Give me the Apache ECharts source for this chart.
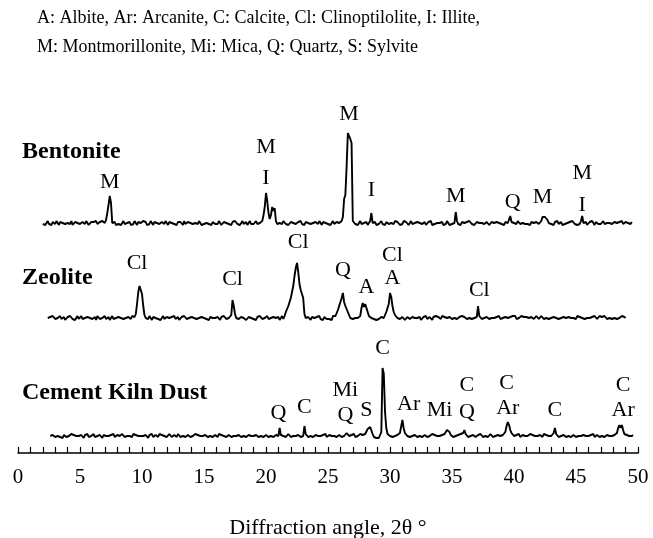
<!DOCTYPE html>
<html>
<head>
<meta charset="utf-8">
<script src="https://cdn.jsdelivr.net/npm/echarts/dist/echarts.min.js"></script>
<style>
  html, body { margin: 0; padding: 0; background: #fff; }
  #chart { width: 653px; height: 538px; }
</style>
</head>
<body>
<div id="chart"></div>
<script>
// XRD patterns, counts above background (arbitrary units), scanned at 0.1° 2θ steps
const stepDeg = 0.1;

const bentoniteStart = 2.0;
const bentonite = [
  5,7,4,6,8,5,6,4,7,6,
  5,8,6,4,7,5,6,8,5,4,
  6,7,5,8,4,6,7,5,6,8,
  5,4,7,6,5,8,6,4,6,7,
  5,7,6,8,5,6,7,5,8,6,
  6,9,16,24,33,26,6,5,7,4,
  6,5,7,4,6,8,5,7,6,5,
  7,4,6,5,8,6,4,7,5,6,
  5,8,6,7,4,6,5,8,6,4,
  7,5,6,8,5,4,7,6,5,8,
  6,4,7,5,6,8,5,6,4,7,
  5,7,6,4,8,5,6,7,5,6,
  8,5,4,6,7,5,8,6,4,6,
  5,7,6,8,5,6,4,7,6,5,
  7,5,8,6,4,6,7,5,6,8,
  5,6,4,7,5,8,6,5,7,4,
  6,8,5,6,7,4,6,8,5,7,
  5,6,8,5,7,6,7,8,14,22,
  36,28,16,10,14,22,18,21,8,5,
  4,6,7,5,8,6,5,7,4,6,
  7,5,6,8,5,4,7,6,8,5,
  6,4,7,5,6,8,5,7,6,4,
  7,6,5,8,6,4,7,5,6,8,
  5,7,4,6,8,5,6,7,5,6,
  6,8,12,30,34,62,96,98,90,86,
  8,6,5,7,4,6,8,5,7,6,
  5,7,4,6,8,16,6,5,7,4,
  6,5,7,8,5,6,4,7,6,5,
  7,6,4,5,8,6,7,5,4,6,
  5,8,6,7,5,4,6,8,5,7,
  6,4,7,5,6,8,5,6,7,4,
  5,7,6,8,4,6,5,7,6,8,
  6,5,7,4,6,5,8,6,4,6,
  5,7,6,17,8,5,6,4,7,5,
  6,4,7,5,8,6,5,7,4,6,
  7,5,6,4,6,8,5,6,7,5,
  4,6,7,5,6,4,7,5,6,8,
  5,6,4,7,5,6,8,13,7,5,
  6,7,5,8,6,5,7,6,8,5,
  7,5,6,4,7,8,6,5,7,6,
  5,7,8,12,14,12,13,9,6,7,
  5,6,4,7,6,8,5,6,7,4,
  6,5,7,6,4,7,5,8,6,5,
  7,4,6,5,8,13,6,5,7,4,
  6,7,5,8,6,4,7,6,5,7,
  5,6,8,5,7,6,4,6,8,5,
  6,7,5,6,4,7,6,8,5,6,
  7,5,6,8,5,7
];

const zeoliteStart = 2.4;
const zeolite = [
  6,4,7,5,8,6,
  5,7,6,4,8,5,6,7,4,6,
  7,5,8,6,5,7,4,6,8,5,
  6,8,5,7,6,4,7,5,6,8,
  5,6,7,4,8,6,5,7,6,5,
  8,5,6,7,4,6,8,5,7,6,
  4,7,5,6,8,5,7,6,4,7,
  6,5,8,6,7,10,20,32,38,39,
  30,18,9,6,7,5,8,6,4,7,
  5,6,8,5,7,4,6,8,5,6,
  7,5,6,4,7,6,8,5,6,7,
  4,6,7,5,8,6,5,7,6,4,
  7,5,6,8,5,7,6,4,7,5,
  6,8,5,6,4,7,5,6,8,6,
  5,7,6,4,7,5,8,6,5,7,
  6,5,9,24,18,10,6,7,5,6,
  7,5,6,8,4,6,7,5,6,8,
  5,6,4,7,5,8,6,5,7,6,
  6,8,5,7,6,4,7,5,6,5,
  7,4,6,8,5,8,12,14,18,22,
  26,32,38,48,56,61,52,40,34,32,
  26,10,6,5,7,6,4,7,5,6,
  5,7,6,8,5,6,4,7,6,5,
  7,5,6,4,8,6,8,10,14,18,
  20,26,31,22,18,16,12,10,6,8,
  5,7,6,4,6,7,8,16,21,17,
  20,18,12,8,9,6,4,5,6,4,
  6,5,4,7,5,6,8,12,16,20,
  31,27,18,12,9,8,6,7,5,6,
  7,6,4,5,7,8,5,6,7,5,
  6,8,6,5,7,4,6,7,5,8,
  5,6,7,6,4,7,5,8,6,7,
  6,5,8,6,7,5,6,4,7,6,
  5,7,6,8,5,6,7,5,8,6,
  7,6,5,7,6,8,5,7,6,5,
  7,18,8,6,5,7,6,8,7,6,
  5,7,6,8,6,5,7,6,8,5,
  7,6,5,7,8,6,5,7,6,8,
  6,8,5,7,6,5,8,6,7,5,
  7,5,6,8,7,6,5,7,8,6,
  5,7,8,6,5,7,6,8,5,7,
  6,8,7,5,6,8,5,7,6,5,
  7,5,6,8,7,5,6,8,6,7,
  5,8,6,7,5,6,8,5,7,6,
  8,6,5,7,6,8,7,5,6,8,
  6,7,5,8,6,5,7,6,8,5,
  7,6,8,5,7,6,5,8,6,7,
  6
];

const kilnDustStart = 2.6;
const kilnDust = [
  6,5,7,6,
  5,7,6,8,5,6,4,7,6,5,
  7,6,5,8,6,7,5,6,8,6,
  5,7,6,4,7,6,8,5,7,6,
  6,8,5,7,6,5,7,6,4,7,
  5,6,8,6,5,7,6,8,5,6,
  7,5,6,7,8,6,5,7,6,5,
  6,7,5,8,6,7,5,6,7,6,
  8,6,5,7,6,4,7,6,8,5,
  6,7,6,5,8,6,7,5,6,7,
  5,6,8,7,5,6,7,6,5,8,
  6,5,7,6,8,5,6,7,6,5,
  7,6,5,8,6,7,5,6,8,6,
  5,7,6,5,7,6,8,5,6,7,
  6,5,8,6,7,5,6,8,5,6,
  7,6,5,7,6,8,6,5,7,6,
  5,7,6,8,5,6,7,5,6,8,
  6,5,7,6,5,7,6,8,5,6,
  7,6,5,7,6,8,5,6,7,5,
  6,14,7,5,6,7,5,6,8,6,
  5,7,6,8,6,5,7,6,5,7,
  6,16,8,6,5,7,6,8,5,6,
  7,5,6,8,6,5,7,6,8,5,
  6,7,5,6,8,6,7,5,6,7,
  6,5,7,6,8,9,7,6,5,7,
  6,8,5,7,6,7,8,6,7,6,
  8,9,13,15,15,14,8,5,4,4,
  5,4,6,10,74,68,30,14,8,7,
  6,8,5,7,6,5,7,6,9,10,
  22,14,9,7,6,8,5,7,6,5,
  7,6,5,7,6,8,5,6,7,6,
  5,7,6,5,8,6,7,5,6,8,
  6,5,7,6,8,9,12,14,10,7,
  6,5,7,6,5,7,6,8,6,9,
  12,8,6,5,7,6,5,7,6,5,
  6,7,5,8,6,5,7,6,7,5,
  6,8,6,5,7,6,5,7,8,6,
  5,7,6,10,16,20,17,12,9,7,
  6,5,7,6,8,5,6,7,5,6,
  7,6,5,8,6,7,5,6,7,6,
  5,7,6,5,8,6,7,5,6,8,
  6,5,9,14,8,6,5,7,6,5,
  7,6,5,7,6,8,5,6,7,6,
  5,7,6,8,6,5,7,8,6,7,
  6,5,7,6,8,5,6,7,6,5,
  7,6,8,5,6,7,5,6,8,6,
  5,7,6,9,14,17,14,17,12,8,
  6,7,5,6,8,6,7
];

// phase identifications: letter, 2θ of the label, label height on the stacked scale
const bentoniteTags  = ['M', 'M', 'I', 'M', 'I', 'M', 'Q', 'M', 'M', 'I'];
const bentoniteTagX  = [7.4, 20.0, 20.0, 26.7, 28.5, 35.3, 39.9, 42.3, 45.5, 45.5];
const bentoniteTagY  = [271, 306, 275, 339, 263, 257, 251, 256, 280, 248];

const zeoliteTags = ['Cl', 'Cl', 'Cl', 'Q', 'A', 'Cl', 'A', 'Cl'];
const zeoliteTagX = [9.6, 17.3, 22.6, 26.2, 28.1, 30.2, 30.2, 37.2];
const zeoliteTagY = [190, 174, 211, 183, 166, 198, 175, 163];

const kilnDustTags = ['Q', 'C', 'Mi', 'Q', 'S', 'C', 'Ar', 'Mi', 'C', 'Q', 'C', 'Ar', 'C', 'C', 'Ar'];
const kilnDustTagX = [21.0, 23.1, 26.4, 26.4, 28.1, 29.4, 31.5, 34.0, 36.2, 36.2, 39.4, 39.5, 43.3, 48.8, 48.8];
const kilnDustTagY = [40, 46, 63, 38, 43, 105, 49, 43, 68, 41, 70, 45, 43, 68, 43];

const sampleNames = ['Bentonite', 'Zeolite', 'Cement Kiln Dust'];
const phaseKey = [
  'A: Albite, Ar: Arcanite, C: Calcite, Cl: Clinoptilolite, I: Illite,',
  'M: Montmorillonite, Mi: Mica, Q: Quartz, S: Sylvite'
];
const xTicks = { min: 0, max: 50, interval: 5 };

// vertical stacking of the three patterns
const offsets = { bentonite: 224, zeolite: 129, kilnDust: 11 };

const serif = '"Liberation Serif", "Times New Roman", serif';

function pattern(values, start, offset) {
  return values.map((v, i) => [Math.round((start + i * stepDeg) * 10) / 10, v + offset]);
}
function tags(names, xs, ys) {
  return names.map((n, i) => ({ name: n, value: [xs[i], ys[i]] }));
}

const lineStyle = { color: '#000', width: 1.9 };
const lineSeries = (data) => ({
  type: 'line', data, showSymbol: false, symbol: 'none',
  lineStyle, silent: true, animation: false
});
const tagSeries = (data) => ({
  type: 'scatter', data, symbolSize: 1, silent: true, animation: false,
  itemStyle: { color: 'rgba(0,0,0,0)', opacity: 1 },
  label: {
    show: true, position: 'inside', formatter: '{b}', opacity: 1,
    color: '#000', fontFamily: serif, fontSize: 22, textBorderWidth: 0
  }
});

const chart = echarts.init(document.getElementById('chart'), null, { renderer: 'canvas' });
chart.setOption({
  backgroundColor: '#fff',
  animation: false,
  grid: { left: 18, right: 15, top: 100, bottom: 85, containLabel: false, outerBoundsMode: 'none' },
  xAxis: {
    type: 'value', min: xTicks.min, max: xTicks.max, interval: xTicks.interval,
    axisLine: { lineStyle: { color: '#000', width: 1.5 } },
    axisTick: { inside: true, length: 6, lineStyle: { color: '#000', width: 1.2 } },
    minorTick: { show: true, splitNumber: 5, length: 6, lineStyle: { color: '#000', width: 1.2 } },
    splitLine: { show: false },
    axisLabel: { color: '#000', fontFamily: serif, fontSize: 21, margin: 14 },
    name: 'Diffraction angle, 2θ °', nameLocation: 'middle', nameGap: 64,
    nameTextStyle: { color: '#000', fontFamily: serif, fontSize: 22 }
  },
  yAxis: { type: 'value', min: 0, max: 353, show: false },
  graphic: [
    { type: 'text', x: 37, y: 18, style: { text: phaseKey[0], fill: '#000', fontFamily: serif, fontSize: 18, verticalAlign: 'middle' } },
    { type: 'text', x: 37, y: 47, style: { text: phaseKey[1], fill: '#000', fontFamily: serif, fontSize: 18, verticalAlign: 'middle' } },
    { type: 'text', x: 22, y: 152, style: { text: sampleNames[0], fill: '#000', fontFamily: serif, fontSize: 24, fontWeight: 'bold', verticalAlign: 'middle' } },
    { type: 'text', x: 22, y: 278, style: { text: sampleNames[1], fill: '#000', fontFamily: serif, fontSize: 24, fontWeight: 'bold', verticalAlign: 'middle' } },
    { type: 'text', x: 22, y: 393, style: { text: sampleNames[2], fill: '#000', fontFamily: serif, fontSize: 24, fontWeight: 'bold', verticalAlign: 'middle' } }
  ],
  series: [
    lineSeries(pattern(bentonite, bentoniteStart, offsets.bentonite)),
    lineSeries(pattern(zeolite, zeoliteStart, offsets.zeolite)),
    lineSeries(pattern(kilnDust, kilnDustStart, offsets.kilnDust)),
    tagSeries(tags(bentoniteTags, bentoniteTagX, bentoniteTagY)),
    tagSeries(tags(zeoliteTags, zeoliteTagX, zeoliteTagY)),
    tagSeries(tags(kilnDustTags, kilnDustTagX, kilnDustTagY))
  ]
});
</script>
</body>
</html>
